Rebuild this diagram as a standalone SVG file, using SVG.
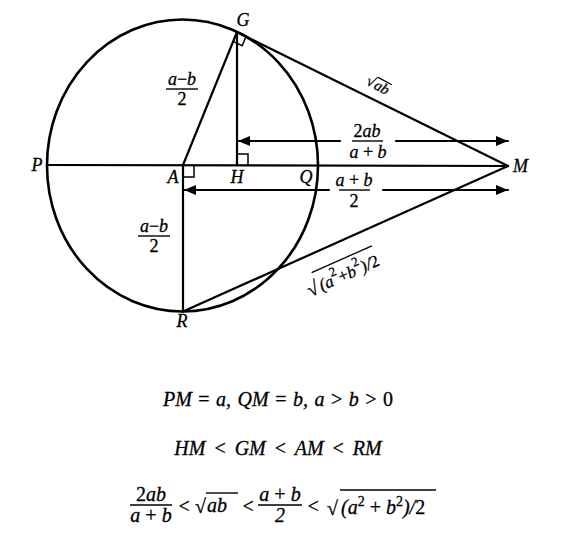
<svg xmlns="http://www.w3.org/2000/svg" width="562" height="540" viewBox="0 0 562 540">
<style>
.ln{stroke:#000;stroke-width:2.2;fill:none;stroke-linecap:round}
.ra{stroke:#000;stroke-width:1.5;fill:none}
.t{font-family:"Liberation Serif","Times New Roman",serif;font-style:italic;font-size:18px;fill:#000;stroke:#000;stroke-width:0.3}
.n{font-style:normal}
.f{font-family:"Liberation Serif","Times New Roman",serif;font-style:italic;font-size:20px;fill:#000;stroke:#000;stroke-width:0.3}
.bar{stroke:#000;stroke-width:1.4}
</style>
<defs>
<marker id="ah" viewBox="0 0 12 10" refX="12" refY="5" markerWidth="12" markerHeight="10" markerUnits="userSpaceOnUse" orient="auto">
<path d="M0,0 L12,5 L0,10 z" fill="#000"/>
</marker>
</defs>
<rect width="562" height="540" fill="#fff"/>
<g id="circle">
<ellipse cx="182.5" cy="165.5" rx="135.5" ry="146" stroke="#000" stroke-width="2.6" fill="none"/>
</g>
<g id="connectors">
<line class="ln" x1="47" y1="165" x2="508" y2="166"/>
<line class="ln" x1="183" y1="165" x2="237" y2="32"/>
<line class="ln" x1="237" y1="32" x2="237" y2="165"/>
<line class="ln" x1="237" y1="32" x2="508" y2="166"/>
<line class="ln" x1="183" y1="165" x2="183" y2="311.5"/>
<line class="ln" x1="183" y1="311.5" x2="508" y2="166"/>
<line class="ln" x1="340" y1="141" x2="238" y2="141" marker-end="url(#ah)"/>
<line class="ln" x1="396" y1="141" x2="508" y2="141" marker-end="url(#ah)"/>
<line class="ln" x1="329" y1="190" x2="184" y2="190" marker-end="url(#ah)"/>
<line class="ln" x1="383" y1="190" x2="508" y2="190" marker-end="url(#ah)"/>
<path class="ra" d="M237,32 L246,36.4 L242.2,45.7 L233.2,41.3"/>
<path class="ra" d="M237,154 L248,154 L248,165"/>
<path class="ra" d="M183,177 L194,177 L194,165"/>
</g>
<g id="node-G"><text class="t" x="243" y="26" text-anchor="middle">G</text></g>
<g id="node-P"><text class="t" x="37" y="171" text-anchor="middle">P</text></g>
<g id="node-A"><text class="t" x="173" y="183" text-anchor="middle">A</text></g>
<g id="node-H"><text class="t" x="237" y="183" text-anchor="middle">H</text></g>
<g id="node-Q"><text class="t" x="306" y="183" text-anchor="middle">Q</text></g>
<g id="node-M"><text class="t" x="513" y="172">M</text></g>
<g id="node-R"><text class="t" x="182" y="327" text-anchor="middle">R</text></g>
<g id="labels">
<text class="t" x="182" y="85" text-anchor="middle">a<tspan class="n">−</tspan>b</text>
<line class="bar" x1="166" y1="89" x2="198" y2="89"/>
<text class="t n" x="182" y="105" text-anchor="middle">2</text>
<text class="t" x="154" y="232" text-anchor="middle">a<tspan class="n">−</tspan>b</text>
<line class="bar" x1="138" y1="236" x2="170" y2="236"/>
<text class="t n" x="154" y="252" text-anchor="middle">2</text>
<text class="t" x="367" y="137" text-anchor="middle"><tspan class="n">2</tspan>ab</text>
<text class="t" x="368" y="158" text-anchor="middle">a <tspan class="n">+</tspan> b</text>
<line class="bar" x1="352" y1="141" x2="383" y2="141"/>
<text class="t" x="354" y="186" text-anchor="middle">a <tspan class="n">+</tspan> b</text>
<text class="t n" x="354" y="207" text-anchor="middle">2</text>
<line class="bar" x1="339" y1="190" x2="370" y2="190"/>
<g transform="translate(365,84) rotate(28)">
<text class="t n" x="0" y="0" style="font-size:15px">√</text>
<text class="t" x="9" y="0" style="font-size:15px">ab</text>
<line class="bar" x1="8.5" y1="-12" x2="24" y2="-12" style="stroke-width:1.2"/>
</g>
<g transform="translate(322,291) rotate(-24)">
<text class="t n" x="-13" y="1" style="font-size:20px">√</text>
<text class="t" x="0" y="0" style="font-size:17px">(a<tspan dy="-9" style="font-size:13px" class="n">2</tspan><tspan dy="9" class="n">+</tspan>b<tspan dy="-9" style="font-size:13px" class="n">2</tspan><tspan dy="9">)/</tspan><tspan class="n">2</tspan></text>
<line class="bar" x1="-2" y1="-21" x2="64" y2="-21" style="stroke-width:1.3"/>
</g>
</g>
<g id="formulas">
<text class="f" x="278" y="406" text-anchor="middle" word-spacing="1.5">PM <tspan class="n">=</tspan> a, QM <tspan class="n">=</tspan> b, a <tspan class="n">&gt;</tspan> b <tspan class="n">&gt;</tspan> <tspan class="n">0</tspan></text>
<text class="f" x="278" y="455" text-anchor="middle" word-spacing="4">HM <tspan class="n">&lt;</tspan> GM <tspan class="n">&lt;</tspan> AM <tspan class="n">&lt;</tspan> RM</text>
<text class="f" x="151" y="501" text-anchor="middle"><tspan class="n">2</tspan>ab</text>
<line class="bar" x1="130" y1="505" x2="172" y2="505"/>
<text class="f" x="151" y="522" text-anchor="middle">a <tspan class="n">+</tspan> b</text>
<text class="f n" x="184" y="513" text-anchor="middle">&lt;</text>
<text class="f n" x="195" y="513">√</text>
<text class="f" x="207" y="512">ab</text>
<line class="bar" x1="206" y1="493" x2="238" y2="493"/>
<text class="f n" x="248" y="513" text-anchor="middle">&lt;</text>
<text class="f" x="280" y="501" text-anchor="middle">a <tspan class="n">+</tspan> b</text>
<line class="bar" x1="258" y1="505" x2="302" y2="505"/>
<text class="f n" x="280" y="522" text-anchor="middle">2</text>
<text class="f n" x="313" y="513" text-anchor="middle">&lt;</text>
<text class="f n" x="327" y="515">√</text>
<text class="f" x="341" y="514">(a<tspan dy="-8" style="font-size:14px" class="n">2</tspan><tspan dy="8"> </tspan><tspan class="n">+</tspan> b<tspan dy="-8" style="font-size:14px" class="n">2</tspan><tspan dy="8">)/</tspan><tspan class="n">2</tspan></text>
<line class="bar" x1="340" y1="490" x2="436" y2="490"/>
</g>
</svg>
